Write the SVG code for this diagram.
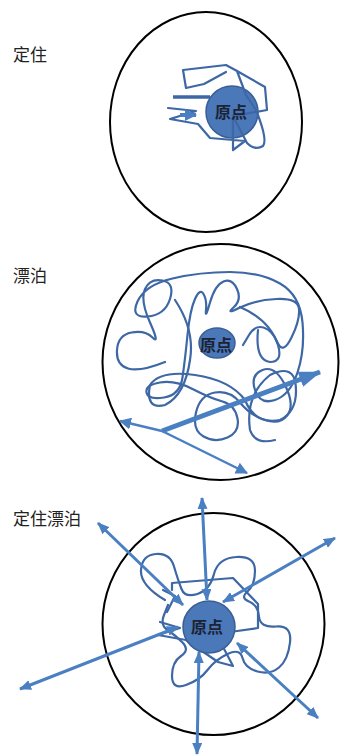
<svg xmlns="http://www.w3.org/2000/svg" width="344" height="756" viewBox="0 0 344 756">
<style>
.lbl{font-family:"Noto Sans CJK SC","Noto Sans",sans-serif;font-size:17px;fill:#222}
.org{font-family:"Noto Sans CJK SC","Noto Sans",sans-serif;font-size:16px;font-weight:bold;fill:#1b2335;text-anchor:middle}
.ring{fill:none;stroke:#000;stroke-width:2}
.dot{fill:#4a78b8;stroke:#3a5f95;stroke-width:1.5}
.scr{fill:none;stroke:#3d67a5;stroke-width:2.2;stroke-linejoin:round;stroke-linecap:round}
.arr{fill:none;stroke:#4a7fc2;stroke-width:3}
</style>
<defs>
<marker id="ah" markerUnits="userSpaceOnUse" markerWidth="12" markerHeight="10" viewBox="0 0 12 10" refX="11" refY="5" orient="auto-start-reverse"><path d="M0,0 L12,5 L0,10 z" fill="#4a7fc2"/></marker>
<marker id="ahBig" markerUnits="userSpaceOnUse" markerWidth="22" markerHeight="16" viewBox="0 0 22 16" refX="21" refY="8" orient="auto"><path d="M0,0 L22,8 L0,16 z" fill="#4a7fc2"/></marker>
<marker id="ahMid" markerUnits="userSpaceOnUse" markerWidth="12" markerHeight="12" viewBox="0 0 12 12" refX="11" refY="6" orient="auto"><path d="M0,0 L12,6 L0,12 z" fill="#4a7fc2"/></marker>
</defs>

<g id="label-dingzhu"><text class="lbl" x="13" y="61">定住</text></g>
<g id="label-piaobo"><text class="lbl" x="13" y="282">漂泊</text></g>
<g id="label-dingzhupiaobo"><text class="lbl" x="13" y="525">定住漂泊</text></g>

<!-- Top: settled -->
<g id="node-top">
<ellipse class="ring" cx="206" cy="122" rx="96" ry="110"/>
<circle class="dot" cx="232" cy="112" r="26"/>
<path class="scr" stroke-width="2.5" d="M186,88 L183,70 L226,65 L237,71 L265,87 L267,110 L233,116 M237,71 L246,95 L256,110 Q268,140 263,146 Q255,151 247,143 L233,116 M186,88 L204,84 L226,72 M168,108 L196,111 L170,119 L198,124 L210,138 L245,141 L233,150 L233,118"/>
<path d="M173,97 L210,97" stroke="#3d67a5" stroke-width="3.5" fill="none"/>
<path d="M180,115 L196,115" stroke="#4a7fc2" stroke-width="4" fill="none" marker-end="url(#ahMid)"/>
<text class="org" x="231" y="118">原点</text>
</g>

<!-- Middle: drifting -->
<g id="node-middle">
<circle class="ring" cx="220.5" cy="362" r="118"/>
<path class="scr" d="M165,362 Q140,372 128,368.5 Q116,365 117,350 Q118,335 131.5,332.5 Q145,330 152.5,337.5 Q160,345 150,322.5 Q140,300 145,289 Q150,278 162.5,280.5 Q175,283 170,299 Q165,315 147.5,316.5 Q130,318 137.5,301.5 Q145,285 172.5,278.5 Q200,272 230,272 Q260,272 280,283.5 Q300,295 302.5,322.5 Q305,350 297.5,372.5 Q290,395 275,400 Q260,405 255,390 Q250,375 262.5,370 Q275,365 285,385 Q295,405 287.5,415 Q280,425 265,420 Q250,415 240,402.5 Q230,390 215,392.5 Q200,395 196,412.5 Q192,430 203.5,436.5 Q215,443 227.5,437.5 Q240,432 237.5,418.5 Q235,405 222.5,401.5 Q210,398 192.5,389 Q175,380 160,382.5 Q145,385 146.5,392.5 Q148,400 164,397.5 Q180,395 182.5,377.5 Q185,360 187.5,335 Q190,310 195,299 Q200,288 203.5,294 Q207,300 206,310 Q205,320 210,302.5 Q215,285 223.5,281.5 Q232,278 237,289 Q242,300 233.5,307.5 Q225,315 240,307.5 Q255,300 276.5,299 Q298,298 299,309 Q300,320 291.5,337.5 Q283,355 277.5,342.5 Q272,330 263.5,327.5 Q255,325 249,335 L243,345"/>
<path class="scr" d="M175,300 Q195,330 190,360 Q185,395 165,405 Q145,410 150,385 Q160,370 195,375 Q230,380 245,400 Q255,425 280,420 Q300,410 295,380 Q290,365 270,375 Q245,395 250,430 Q255,445 275,440 M240,307 Q270,320 278,345 Q283,362 270,362 Q255,360 258,330"/>
<ellipse class="dot" cx="217" cy="343" rx="18" ry="15"/>
<text class="org" x="216" y="351">原点</text>
</g>

<!-- Bottom: settled drifting -->
<g id="node-bottom">
<circle class="ring" cx="213.5" cy="624" r="111"/>
<path class="scr" d="M165,600 Q140,585 141,570 Q142,555 156,554 Q170,553 174,566.5 Q178,580 181.5,589 Q185,598 197.5,594 Q210,590 214,574 Q218,558 236.5,557 Q255,556 255,570.5 Q255,585 247.5,591.5 Q240,598 249,601.5 Q258,605 259,616.5 Q260,628 276,626.5 Q292,625 290,642.5 Q288,660 279,667.5 Q270,675 257.5,671.5 Q245,668 242.5,658 Q240,648 227.5,654 Q215,660 207.5,670 Q200,680 186,685 Q172,690 172,676 Q172,662 181,656 Q190,650 182.5,642.5 Q175,635 167.5,630 Q160,625 164,615 L168,605"/>
<path class="scr" d="M172,590 L172,583 L233,578 L258,604 L258,628 L230,632 L222,645 M160,622 L180,628 L158,635 L186,640 L218,662 L233,666 L222,645 M167,612 L175,596 L163,590"/>
<circle class="dot" cx="209" cy="627" r="26"/>
<text class="org" x="207" y="633">原点</text>
</g>

<g id="connectors">
<path d="M162,431 L320,372" stroke="#4a7fc2" stroke-width="5" fill="none" marker-end="url(#ahBig)"/>
<path d="M162,431 L120,421" stroke="#4a7fc2" stroke-width="2.5" fill="none" marker-end="url(#ahMid)"/>
<path d="M162,431 L247,473" stroke="#4a7fc2" stroke-width="2.5" fill="none" marker-end="url(#ahMid)"/>
<path class="arr" d="M207,600 L202,498" marker-start="url(#ah)" marker-end="url(#ah)"/>
<path class="arr" d="M183,605 L98,523" marker-start="url(#ah)" marker-end="url(#ah)"/>
<path class="arr" d="M223,602 L335,538" marker-start="url(#ah)" marker-end="url(#ah)"/>
<path class="arr" d="M178,627 L20,689" marker-start="url(#ah)" marker-end="url(#ah)"/>
<path class="arr" d="M199,652 L197,754" marker-start="url(#ah)" marker-end="url(#ah)"/>
<path class="arr" d="M237,643 L318,718" marker-start="url(#ah)" marker-end="url(#ah)"/>
</g>
</svg>
